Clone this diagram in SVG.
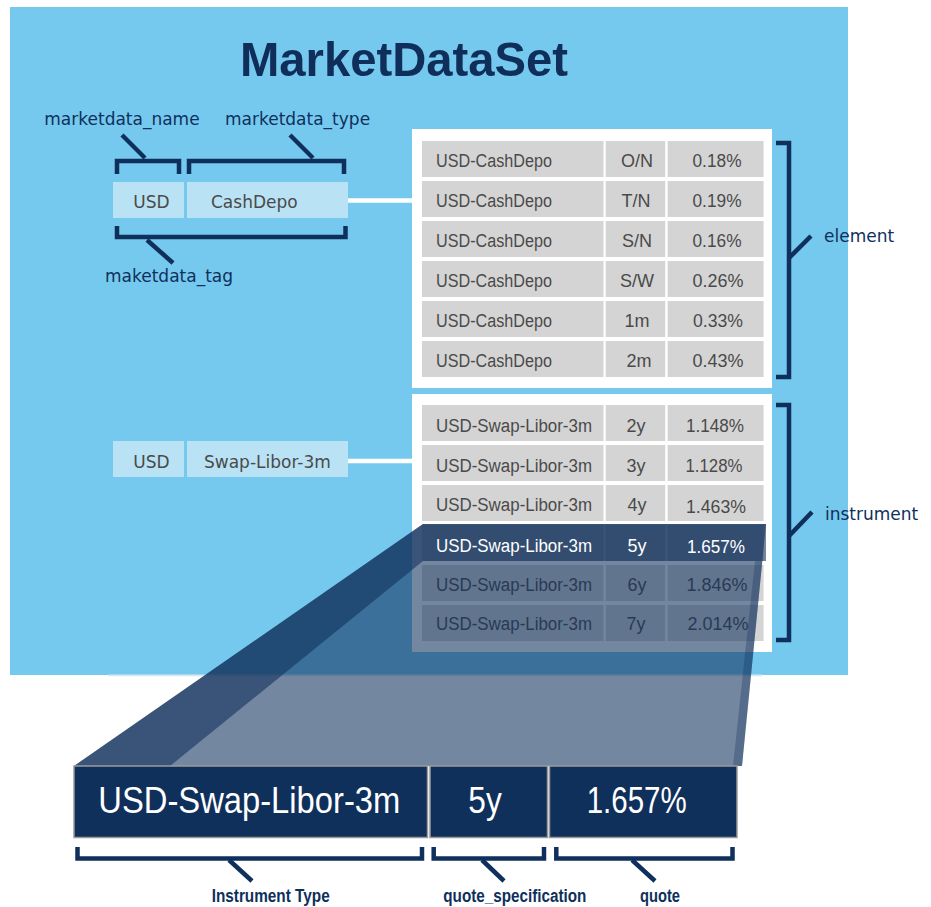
<svg xmlns="http://www.w3.org/2000/svg" width="931" height="907" viewBox="0 0 931 907">
  <style>
    .bg { fill: #76c9ee; }
    .tagbox { fill: #b9e3f5; }
    .panel { fill: #ffffff; }
    .cell { fill: #d4d4d4; }
    .brace { fill: none; stroke: #0f305c; stroke-width: 4.5; stroke-linejoin: miter; }
    .lbl { font-family: "DejaVu Sans", "Noto Sans", sans-serif; font-size: 17px; fill: #0f305c; }
    .tagtxt { font-family: "DejaVu Sans", "Noto Sans", sans-serif; font-size: 17px; fill: #4a4a4a; }
    .tt { font-family: "Liberation Sans", Arial, sans-serif; font-size: 18px; fill: #4a4a4a; }
    .mid { text-anchor: middle; }
    .hl { fill: #ffffff; }
    .title { font-family: "Liberation Sans", Arial, sans-serif; font-weight: bold; font-size: 49px; fill: #0f2e5a; }
    .shade { fill: #0f305c; }
    .qcell { fill: #10305c; stroke: #9a9a9a; stroke-width: 1.5; }
    .qtxt { font-family: "Liberation Sans", Arial, sans-serif; font-size: 37px; fill: #ffffff; }
    .cap { font-family: "Liberation Sans", Arial, sans-serif; font-weight: bold; font-size: 17.5px; fill: #0f305c; }
    .wire { stroke: #ffffff; stroke-width: 4.3; fill: none; }
  </style>

  <!-- market data set area -->
  <rect class="bg" x="10" y="7" width="838" height="668"/>
  <rect x="108" y="674.5" width="654" height="1.8" fill="#d9e8f0"/>

  <g id="title">
    <text class="title" x="240" y="76" textLength="328" lengthAdjust="spacingAndGlyphs">MarketDataSet</text>
  </g>

  <!-- tag labels and braces -->
  <g id="tag-labels">
    <text class="lbl" x="44.3" y="124.5">marketdata_name</text>
    <text class="lbl" x="225" y="124.5">marketdata_type</text>
    <text class="lbl" x="105" y="281.5">maketdata_tag</text>
    <path class="brace" d="M117,174 V161 H179 V174"/>
    <path class="brace" d="M122,135 L145,158"/>
    <path class="brace" d="M189,174 V161 H344 V174"/>
    <path class="brace" d="M290,135 L313,158"/>
    <path class="brace" d="M117,226 V237 H345.5 V226"/>
    <path class="brace" d="M147,240 L173,263"/>
  </g>

  <g id="tag-cashdepo">
    <rect class="tagbox" x="113" y="182" width="71" height="36"/>
    <rect class="tagbox" x="187" y="182" width="161" height="36"/>
    <text class="tagtxt" x="133.3" y="208.3">USD</text>
    <text class="tagtxt" x="211" y="208.3">CashDepo</text>
  </g>

  <g id="tag-swap">
    <rect class="tagbox" x="113" y="441" width="71" height="36"/>
    <rect class="tagbox" x="187" y="441" width="161" height="36"/>
    <text class="tagtxt" x="133.3" y="468">USD</text>
    <text class="tagtxt" x="204" y="468">Swap-Libor-3m</text>
  </g>

  <g id="connectors">
    <line class="wire" x1="348" y1="200.5" x2="413" y2="200.5"/>
    <line class="wire" x1="348" y1="461" x2="413" y2="461"/>
  </g>

  <!-- element table -->
  <g id="table-cashdepo">
    <rect class="panel" x="412" y="129" width="360" height="259"/>
    <g>
      <rect class="cell" x="422" y="141" width="181.5" height="36"/><rect class="cell" x="605.7" y="141" width="59.5" height="36"/><rect class="cell" x="667.6" y="141" width="96" height="36"/>
      <rect class="cell" x="422" y="181" width="181.5" height="36"/><rect class="cell" x="605.7" y="181" width="59.5" height="36"/><rect class="cell" x="667.6" y="181" width="96" height="36"/>
      <rect class="cell" x="422" y="221" width="181.5" height="36"/><rect class="cell" x="605.7" y="221" width="59.5" height="36"/><rect class="cell" x="667.6" y="221" width="96" height="36"/>
      <rect class="cell" x="422" y="261" width="181.5" height="36"/><rect class="cell" x="605.7" y="261" width="59.5" height="36"/><rect class="cell" x="667.6" y="261" width="96" height="36"/>
      <rect class="cell" x="422" y="301" width="181.5" height="36"/><rect class="cell" x="605.7" y="301" width="59.5" height="36"/><rect class="cell" x="667.6" y="301" width="96" height="36"/>
      <rect class="cell" x="422" y="341" width="181.5" height="36"/><rect class="cell" x="605.7" y="341" width="59.5" height="36"/><rect class="cell" x="667.6" y="341" width="96" height="36"/>
    </g>
    <g>
      <text class="tt" x="436" y="166.5" textLength="116" lengthAdjust="spacingAndGlyphs">USD-CashDepo</text>
      <text class="tt mid" x="637" y="166.5">O/N</text>
      <text class="tt mid" x="717" y="166.5" textLength="49" lengthAdjust="spacingAndGlyphs">0.18%</text>
      <text class="tt" x="436" y="206.5" textLength="116" lengthAdjust="spacingAndGlyphs">USD-CashDepo</text>
      <text class="tt mid" x="636" y="206.5">T/N</text>
      <text class="tt mid" x="717" y="206.5" textLength="49" lengthAdjust="spacingAndGlyphs">0.19%</text>
      <text class="tt" x="436" y="246.5" textLength="116" lengthAdjust="spacingAndGlyphs">USD-CashDepo</text>
      <text class="tt mid" x="637" y="246.5">S/N</text>
      <text class="tt mid" x="717" y="246.5" textLength="49" lengthAdjust="spacingAndGlyphs">0.16%</text>
      <text class="tt" x="436" y="286.5" textLength="116" lengthAdjust="spacingAndGlyphs">USD-CashDepo</text>
      <text class="tt mid" x="637" y="286.5">S/W</text>
      <text class="tt mid" x="718" y="286.5" textLength="51" lengthAdjust="spacingAndGlyphs">0.26%</text>
      <text class="tt" x="436" y="326.5" textLength="116" lengthAdjust="spacingAndGlyphs">USD-CashDepo</text>
      <text class="tt mid" x="637" y="326.5">1m</text>
      <text class="tt mid" x="718" y="326.5" textLength="50" lengthAdjust="spacingAndGlyphs">0.33%</text>
      <text class="tt" x="436" y="366.5" textLength="116" lengthAdjust="spacingAndGlyphs">USD-CashDepo</text>
      <text class="tt mid" x="639" y="366.5">2m</text>
      <text class="tt mid" x="718" y="366.5" textLength="51" lengthAdjust="spacingAndGlyphs">0.43%</text>
    </g>
  </g>

  <g id="element-brace">
    <path class="brace" d="M776,143 H789 V377 H776"/>
    <path class="brace" d="M789,258 L811,236"/>
    <text class="lbl" x="824" y="242">element</text>
  </g>

  <!-- instrument table -->
  <g id="table-swap">
    <rect class="panel" x="412" y="394" width="360" height="258"/>
    <g>
      <rect class="cell" x="422" y="405" width="181.5" height="36"/><rect class="cell" x="605.7" y="405" width="59.5" height="36"/><rect class="cell" x="667.6" y="405" width="96" height="36"/>
      <rect class="cell" x="422" y="445" width="181.5" height="36"/><rect class="cell" x="605.7" y="445" width="59.5" height="36"/><rect class="cell" x="667.6" y="445" width="96" height="36"/>
      <rect class="cell" x="422" y="485" width="181.5" height="36"/><rect class="cell" x="605.7" y="485" width="59.5" height="36"/><rect class="cell" x="667.6" y="485" width="96" height="36"/>
      <rect class="cell" x="422" y="525" width="181.5" height="36"/><rect class="cell" x="605.7" y="525" width="59.5" height="36"/><rect class="cell" x="667.6" y="525" width="96" height="36"/>
      <rect class="cell" x="422" y="565" width="181.5" height="36"/><rect class="cell" x="605.7" y="565" width="59.5" height="36"/><rect class="cell" x="667.6" y="565" width="96" height="36"/>
      <rect class="cell" x="422" y="605" width="181.5" height="36"/><rect class="cell" x="605.7" y="605" width="59.5" height="36"/><rect class="cell" x="667.6" y="605" width="96" height="36"/>
    </g>
    <g>
      <text class="tt" x="436" y="432" textLength="156" lengthAdjust="spacingAndGlyphs">USD-Swap-Libor-3m</text>
      <text class="tt mid" x="636" y="432">2y</text>
      <text class="tt mid" x="715" y="432" textLength="58" lengthAdjust="spacingAndGlyphs">1.148%</text>
      <text class="tt" x="436" y="472" textLength="156" lengthAdjust="spacingAndGlyphs">USD-Swap-Libor-3m</text>
      <text class="tt mid" x="636" y="472">3y</text>
      <text class="tt mid" x="714" y="472" textLength="57" lengthAdjust="spacingAndGlyphs">1.128%</text>
      <text class="tt" x="436" y="511" textLength="156" lengthAdjust="spacingAndGlyphs">USD-Swap-Libor-3m</text>
      <text class="tt mid" x="637" y="511">4y</text>
      <text class="tt mid" x="716" y="513" textLength="60" lengthAdjust="spacingAndGlyphs">1.463%</text>
      <text class="tt" x="436" y="591" textLength="156" lengthAdjust="spacingAndGlyphs">USD-Swap-Libor-3m</text>
      <text class="tt mid" x="637" y="591">6y</text>
      <text class="tt mid" x="717" y="591" textLength="61" lengthAdjust="spacingAndGlyphs">1.846%</text>
      <text class="tt" x="436" y="630" textLength="156" lengthAdjust="spacingAndGlyphs">USD-Swap-Libor-3m</text>
      <text class="tt mid" x="636" y="630">7y</text>
      <text class="tt mid" x="718" y="630" textLength="61" lengthAdjust="spacingAndGlyphs">2.014%</text>
    </g>
  </g>

  <g id="instrument-brace">
    <path class="brace" d="M776,405 H789 V640 H776"/>
    <path class="brace" d="M789,536 L812,512"/>
    <text class="lbl" x="825" y="519.5">instrument</text>
  </g>

  <!-- projection of the selected row onto the quote -->
  <g id="projection">
    <polygon class="shade" opacity="0.58" points="423,524 766,524 742,766 74,766"/>
    <polygon class="shade" opacity="0.58" points="423,524 766,524 766,561 423,561 170,766 74,766"/>
    <polygon class="shade" opacity="0.3" points="762.3,561 742,766 733,766 755,561"/>
    <text class="tt hl" x="436" y="551.5" textLength="156" lengthAdjust="spacingAndGlyphs">USD-Swap-Libor-3m</text>
    <text class="tt mid hl" x="637" y="551.5">5y</text>
    <text class="tt mid hl" x="716" y="552.5" textLength="58" lengthAdjust="spacingAndGlyphs">1.657%</text>
  </g>

  <!-- quote breakdown -->
  <g id="quote">
    <rect class="qcell" x="74" y="766" width="353.5" height="71.5"/>
    <rect class="qcell" x="430" y="766" width="117.5" height="71.5"/>
    <rect class="qcell" x="549.5" y="766" width="187.5" height="71.5"/>
    <text class="qtxt" x="98.3" y="813.3" textLength="302" lengthAdjust="spacingAndGlyphs">USD-Swap-Libor-3m</text>
    <text class="qtxt" x="468.3" y="813.3" textLength="33.4" lengthAdjust="spacingAndGlyphs">5y</text>
    <text class="qtxt" x="586.7" y="813.3" textLength="100" lengthAdjust="spacingAndGlyphs">1.657%</text>
  </g>

  <g id="quote-braces">
    <path class="brace" d="M77.5,847 V858.5 H422 V847"/>
    <path class="brace" d="M229,860 L252,881"/>
    <path class="brace" d="M433.7,847 V858.5 H544 V847"/>
    <path class="brace" d="M482,860 L504,881"/>
    <path class="brace" d="M556.3,847 V858.5 H732.5 V847"/>
    <path class="brace" d="M632,860 L655,881"/>
    <text class="cap" x="211.7" y="902" textLength="118" lengthAdjust="spacingAndGlyphs">Instrument Type</text>
    <text class="cap" x="443.3" y="902" textLength="143" lengthAdjust="spacingAndGlyphs">quote_specification</text>
    <text class="cap" x="640" y="902" textLength="40" lengthAdjust="spacingAndGlyphs">quote</text>
  </g>
</svg>
